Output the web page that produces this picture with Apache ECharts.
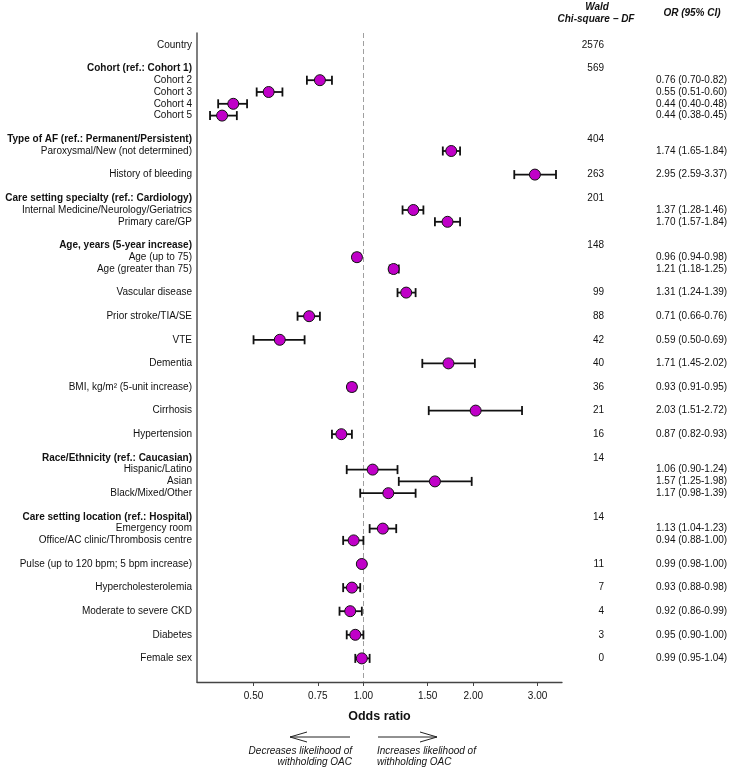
<!DOCTYPE html>
<html>
<head>
<meta charset="utf-8">
<script src="https://cdn.jsdelivr.net/npm/echarts@6/dist/echarts.min.js"></script>
<style>
html,body{margin:0;padding:0;background:#fff;}
#chart{width:733px;height:771px;}
</style>
</head>
<body>
<div id="chart"></div>
<script>
// Row labels in display order ('' = blank spacer row)
const rowLabels = [
  'Country', '',
  'Cohort (ref.: Cohort 1)', 'Cohort 2', 'Cohort 3', 'Cohort 4', 'Cohort 5', '',
  'Type of AF (ref.: Permanent/Persistent)', 'Paroxysmal/New (not determined)', '',
  'History of bleeding', '',
  'Care setting specialty (ref.: Cardiology)', 'Internal Medicine/Neurology/Geriatrics', 'Primary care/GP', '',
  'Age, years (5-year increase)', 'Age (up to 75)', 'Age (greater than 75)', '',
  'Vascular disease', '',
  'Prior stroke/TIA/SE', '',
  'VTE', '',
  'Dementia', '',
  'BMI, kg/m\u00B2 (5-unit increase)', '',
  'Cirrhosis', '',
  'Hypertension', '',
  'Race/Ethnicity (ref.: Caucasian)', 'Hispanic/Latino', 'Asian', 'Black/Mixed/Other', '',
  'Care setting location (ref.: Hospital)', 'Emergency room', 'Office/AC clinic/Thrombosis centre', '',
  'Pulse (up to 120 bpm; 5 bpm increase)', '',
  'Hypercholesterolemia', '',
  'Moderate to severe CKD', '',
  'Diabetes', '',
  'Female sex'
];
const headerLabels = [
  'Cohort (ref.: Cohort 1)', 'Type of AF (ref.: Permanent/Persistent)',
  'Care setting specialty (ref.: Cardiology)', 'Age, years (5-year increase)',
  'Race/Ethnicity (ref.: Caucasian)', 'Care setting location (ref.: Hospital)'
];

// Estimates
const estLabels = [
  'Cohort 2', 'Cohort 3', 'Cohort 4', 'Cohort 5',
  'Paroxysmal/New (not determined)', 'History of bleeding',
  'Internal Medicine/Neurology/Geriatrics', 'Primary care/GP',
  'Age (up to 75)', 'Age (greater than 75)', 'Vascular disease',
  'Prior stroke/TIA/SE', 'VTE', 'Dementia', 'BMI, kg/m\u00B2 (5-unit increase)',
  'Cirrhosis', 'Hypertension', 'Hispanic/Latino', 'Asian', 'Black/Mixed/Other',
  'Emergency room', 'Office/AC clinic/Thrombosis centre',
  'Pulse (up to 120 bpm; 5 bpm increase)', 'Hypercholesterolemia',
  'Moderate to severe CKD', 'Diabetes', 'Female sex'
];
const orPoint = [0.76, 0.55, 0.44, 0.41, 1.74, 2.95, 1.37, 1.70, 0.96, 1.21, 1.31, 0.71, 0.59, 1.71, 0.93, 2.03, 0.87, 1.06, 1.57, 1.17, 1.13, 0.94, 0.99, 0.93, 0.92, 0.95, 0.99];
const ciLow   = [0.70, 0.51, 0.40, 0.38, 1.65, 2.59, 1.28, 1.57, 0.94, 1.18, 1.24, 0.66, 0.50, 1.45, 0.91, 1.51, 0.82, 0.90, 1.25, 0.98, 1.04, 0.88, 0.98, 0.88, 0.86, 0.90, 0.95];
const ciHigh  = [0.82, 0.60, 0.48, 0.45, 1.84, 3.37, 1.46, 1.84, 0.98, 1.25, 1.39, 0.76, 0.69, 2.02, 0.95, 2.72, 0.93, 1.24, 1.98, 1.39, 1.23, 1.00, 1.00, 0.98, 0.99, 1.00, 1.04];
const orText = [
  '0.76 (0.70-0.82)', '0.55 (0.51-0.60)', '0.44 (0.40-0.48)', '0.44 (0.38-0.45)',
  '1.74 (1.65-1.84)', '2.95 (2.59-3.37)', '1.37 (1.28-1.46)', '1.70 (1.57-1.84)',
  '0.96 (0.94-0.98)', '1.21 (1.18-1.25)', '1.31 (1.24-1.39)', '0.71 (0.66-0.76)',
  '0.59 (0.50-0.69)', '1.71 (1.45-2.02)', '0.93 (0.91-0.95)', '2.03 (1.51-2.72)',
  '0.87 (0.82-0.93)', '1.06 (0.90-1.24)', '1.57 (1.25-1.98)', '1.17 (0.98-1.39)',
  '1.13 (1.04-1.23)', '0.94 (0.88-1.00)', '0.99 (0.98-1.00)', '0.93 (0.88-0.98)',
  '0.92 (0.86-0.99)', '0.95 (0.90-1.00)', '0.99 (0.95-1.04)'
];

// Wald chi-square - DF
const waldLabels = [
  'Country', 'Cohort (ref.: Cohort 1)', 'Type of AF (ref.: Permanent/Persistent)',
  'History of bleeding', 'Care setting specialty (ref.: Cardiology)',
  'Age, years (5-year increase)', 'Vascular disease', 'Prior stroke/TIA/SE', 'VTE',
  'Dementia', 'BMI, kg/m\u00B2 (5-unit increase)', 'Cirrhosis', 'Hypertension',
  'Race/Ethnicity (ref.: Caucasian)', 'Care setting location (ref.: Hospital)',
  'Pulse (up to 120 bpm; 5 bpm increase)', 'Hypercholesterolemia',
  'Moderate to severe CKD', 'Diabetes', 'Female sex'
];
const waldValues = [2576, 569, 404, 263, 201, 148, 99, 88, 42, 40, 36, 21, 16, 14, 14, 11, 7, 4, 3, 0];

// X axis tick labels (odds ratio, log scale)
const xTicks = [0.5, 0.75, 1.0, 1.5, 2.0, 3.0];
const xMin = 0.35, xMax = 3.5;

const slotOf = l => rowLabels.indexOf(l);
const labelSlots = rowLabels.map((l, i) => l ? i : null).filter(v => v !== null);

const FONT = '"Liberation Sans", Arial, Helvetica, sans-serif';
const TXT = '#111';
const MAG = '#C000C8';
const FS = 10;

const chart = echarts.init(document.getElementById('chart'), null, {renderer: 'canvas'});

const ciData = estLabels.map((l, i) => [Math.log(ciLow[i]), Math.log(ciHigh[i]), slotOf(l)]);
const ptData = estLabels.map((l, i) => [Math.log(orPoint[i]), slotOf(l)]);
const orTextData = estLabels.map((l, i) => [0, slotOf(l), orText[i]]);
const waldData = waldLabels.map((l, i) => [0, slotOf(l), String(waldValues[i])]);

function textColumn(x, align) {
  return function (params, api) {
    const y = api.coord([0, api.value(1)])[1];
    return {
      type: 'text',
      x: x, y: y,
      style: {
        text: api.value(2),
        fontSize: FS, fontFamily: FONT, fill: TXT,
        align: align, verticalAlign: 'middle'
      }
    };
  };
}

const option = {
  animation: false,
  textStyle: {fontFamily: FONT},
  grid: {left: 197, right: 171, top: 33, bottom: 89, containLabel: false, outerBoundsMode: 'none'},
  xAxis: {
    type: 'value',
    min: Math.log(xMin), max: Math.log(xMax),
    axisLine: {show: true, onZero: false, lineStyle: {color: '#444', width: 1.3}},
    axisTick: {show: true, customValues: xTicks.map(Math.log), length: 4, lineStyle: {color: '#444', width: 1}},
    axisLabel: {
      customValues: xTicks.map(Math.log),
      formatter: v => Math.exp(v).toFixed(2),
      fontSize: FS, color: TXT, margin: 9, fontFamily: FONT
    },
    splitLine: {show: false},
    name: 'Odds ratio',
    nameLocation: 'middle',
    nameGap: 28,
    nameTextStyle: {fontSize: 12.5, fontWeight: 'bold', color: TXT, fontFamily: FONT}
  },
  yAxis: {
    type: 'value',
    min: -1, max: 54, inverse: true,
    axisLine: {show: true, onZero: false, lineStyle: {color: '#555', width: 1.5}},
    axisTick: {show: false},
    splitLine: {show: false},
    axisLabel: {
      customValues: labelSlots,
      margin: 5,
      fontSize: FS, color: TXT, fontFamily: FONT,
      formatter: function (v) {
        const l = rowLabels[Math.round(v)] || '';
        return headerLabels.indexOf(l) >= 0 ? '{b|' + l + '}' : l;
      },
      rich: {b: {fontWeight: 'bold', fontSize: FS, color: TXT, fontFamily: FONT}}
    }
  },
  series: [
    {
      type: 'custom',
      name: 'CI',
      clip: false,
      encode: {x: [0, 1], y: 2},
      data: ciData,
      z: 2,
      renderItem: function (params, api) {
        const a = api.coord([api.value(0), api.value(2)]);
        const b = api.coord([api.value(1), api.value(2)]);
        const h = 4.5;
        const st = {stroke: '#111', lineWidth: 1.8};
        return {
          type: 'group',
          children: [
            {type: 'line', shape: {x1: a[0], y1: a[1], x2: b[0], y2: b[1]}, style: st},
            {type: 'line', shape: {x1: a[0], y1: a[1] - h, x2: a[0], y2: a[1] + h}, style: st},
            {type: 'line', shape: {x1: b[0], y1: b[1] - h, x2: b[0], y2: b[1] + h}, style: st}
          ]
        };
      }
    },
    {
      type: 'scatter',
      name: 'OR',
      data: ptData,
      symbol: 'circle',
      symbolSize: 11,
      z: 3,
      itemStyle: {color: MAG, borderColor: '#111', borderWidth: 1, opacity: 1},
      markLine: {
        silent: true,
        symbol: ['none', 'none'],
        label: {show: false},
        lineStyle: {color: '#a0a0a0', type: [5, 3], width: 1},
        data: [{xAxis: 0}],
        z: 1
      }
    },
    {
      type: 'custom',
      name: 'Wald',
      clip: false,
      silent: true,
      data: waldData,
      renderItem: textColumn(604, 'right')
    },
    {
      type: 'custom',
      name: 'ORtext',
      clip: false,
      silent: true,
      data: orTextData,
      renderItem: textColumn(656, 'left')
    }
  ],
  graphic: [
    {type: 'text', x: 597, y: 7, style: {text: 'Wald', fontSize: FS, fontWeight: 'bold', fontStyle: 'italic', fontFamily: FONT, fill: TXT, align: 'center', verticalAlign: 'middle'}},
    {type: 'text', x: 596, y: 19, style: {text: 'Chi-square \u2212 DF', fontSize: FS, fontWeight: 'bold', fontStyle: 'italic', fontFamily: FONT, fill: TXT, align: 'center', verticalAlign: 'middle'}},
    {type: 'text', x: 692, y: 13, style: {text: 'OR (95% CI)', fontSize: FS, fontWeight: 'bold', fontStyle: 'italic', fontFamily: FONT, fill: TXT, align: 'center', verticalAlign: 'middle'}},
    {type: 'polyline', shape: {points: [[350, 737], [290, 737]]}, style: {stroke: '#222', lineWidth: 1, fill: null}},
    {type: 'polyline', shape: {points: [[307, 732], [290, 737], [307, 742]]}, style: {stroke: '#222', lineWidth: 1, fill: null}},
    {type: 'polyline', shape: {points: [[378, 737], [437, 737]]}, style: {stroke: '#222', lineWidth: 1, fill: null}},
    {type: 'polyline', shape: {points: [[420, 732], [437, 737], [420, 742]]}, style: {stroke: '#222', lineWidth: 1, fill: null}},
    {type: 'text', x: 352, y: 751, style: {text: 'Decreases likelihood of', fontSize: FS, fontStyle: 'italic', fontFamily: FONT, fill: TXT, align: 'right', verticalAlign: 'middle'}},
    {type: 'text', x: 352, y: 762, style: {text: 'withholding OAC', fontSize: FS, fontStyle: 'italic', fontFamily: FONT, fill: TXT, align: 'right', verticalAlign: 'middle'}},
    {type: 'text', x: 377, y: 751, style: {text: 'Increases likelihood of', fontSize: FS, fontStyle: 'italic', fontFamily: FONT, fill: TXT, align: 'left', verticalAlign: 'middle'}},
    {type: 'text', x: 377, y: 762, style: {text: 'withholding OAC', fontSize: FS, fontStyle: 'italic', fontFamily: FONT, fill: TXT, align: 'left', verticalAlign: 'middle'}}
  ]
};
chart.setOption(option);
</script>
</body>
</html>
